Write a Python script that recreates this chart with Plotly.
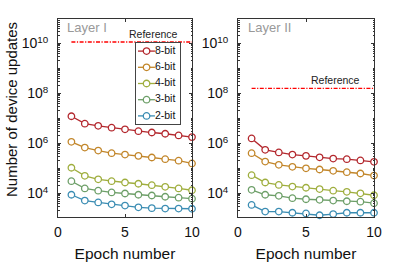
import plotly.graph_objects as go
import math

epochs = [1, 2, 3, 4, 5, 6, 7, 8, 9, 10]
series_names = ["8-bit", "6-bit", "4-bit", "3-bit", "2-bit"]
colors = ["#b3272d", "#c2862a", "#9fae3e", "#6d9f68", "#3b8db3"]

layer1 = {
    "8-bit": [1.23e7, 6.2e6, 5.1e6, 4.3e6, 3.7e6, 3.1e6, 2.75e6, 2.45e6, 2.1e6, 1.8e6],
    "6-bit": [1.17e6, 6.9e5, 5.2e5, 4.1e5, 3.6e5, 3.2e5, 2.75e5, 2.35e5, 2.05e5, 1.6e5],
    "4-bit": [1.07e5, 5.1e4, 3.7e4, 3.1e4, 2.75e4, 2.45e4, 2.15e4, 1.85e4, 1.6e4, 1.35e4],
    "3-bit": [3.1e4, 1.6e4, 1.3e4, 1.1e4, 1.0e4, 8.9e3, 8.3e3, 7.4e3, 6.8e3, 6.2e3],
    "2-bit": [8.9e3, 5.2e3, 4.4e3, 3.7e3, 3.3e3, 2.8e3, 2.6e3, 2.5e3, 2.5e3, 2.45e3],
}
layer2 = {
    "8-bit": [1.6e6, 5.6e5, 4.4e5, 3.6e5, 3.2e5, 2.8e5, 2.5e5, 2.35e5, 2.1e5, 1.85e5],
    "6-bit": [4.1e5, 1.9e5, 1.4e5, 1.17e5, 1.02e5, 9.1e4, 8.1e4, 7.1e4, 6.3e4, 5.2e4],
    "4-bit": [5.4e4, 2.75e4, 2.2e4, 1.9e4, 1.7e4, 1.5e4, 1.3e4, 1.17e4, 1.02e4, 8.5e3],
    "3-bit": [1.4e4, 8.9e3, 8.1e3, 6.5e3, 5.9e3, 5.6e3, 5.2e3, 4.9e3, 4.7e3, 4.1e3],
    "2-bit": [3.5e3, 1.9e3, 1.9e3, 1.7e3, 1.6e3, 1.35e3, 1.5e3, 1.7e3, 1.7e3, 1.7e3],
}
ref_x = [1, 10]
ref_layer1 = 1.15e10
ref_layer2 = 1.6e8
panel_titles = ["Layer I", "Layer II"]
ytick_vals = [1e4, 1e6, 1e8, 1e10]
ytick_text = ["10<sup>4</sup>", "10<sup>6</sup>", "10<sup>8</sup>", "10<sup>10</sup>"]
xtick_vals = [0, 5, 10]

W, H = 415, 262
FONT = "Liberation Sans, Arial, Helvetica, sans-serif"

fig = go.Figure()

for col, (data, refv) in enumerate([(layer1, ref_layer1), (layer2, ref_layer2)]):
    xa = "x" if col == 0 else "x2"
    ya = "y" if col == 0 else "y2"
    for name, c in zip(series_names, colors):
        fig.add_trace(go.Scatter(
            x=epochs, y=data[name], mode="lines+markers", name=name,
            xaxis=xa, yaxis=ya, showlegend=False, cliponaxis=False,
            line=dict(color=c, width=1.3),
            marker=dict(symbol="circle", size=6.5, color="white",
                        line=dict(color=c, width=1.3))))
    fig.add_trace(go.Scatter(
        x=ref_x, y=[refv, refv], mode="lines", xaxis=xa, yaxis=ya,
        line=dict(color="#ff0000", width=1.3, dash="4px,1.5px,1.2px,1.5px"),
        showlegend=False, cliponaxis=False, hoverinfo="skip"))
    fig.add_annotation(x=9.1, y=math.log10(refv), xref=xa, yref=ya,
                       text="Reference", showarrow=False, xanchor="right",
                       yanchor="bottom", yshift=0,
                       font=dict(size=10.5, color="#222", family=FONT))

# legend drawn as a small categorical key panel (one row per series)
key_line_x = [0.45, 4.3]
key_marker_x = 2.4
key_text_x = 4.3
for name, c in zip(series_names, colors):
    fig.add_trace(go.Scatter(
        x=key_line_x, y=[name, name], xaxis="x3", yaxis="y3", mode="lines",
        showlegend=False, hoverinfo="skip", cliponaxis=False,
        line=dict(color=c, width=1.3)))
    fig.add_trace(go.Scatter(
        x=[key_marker_x], y=[name], xaxis="x3", yaxis="y3", mode="markers",
        showlegend=False, hoverinfo="skip", cliponaxis=False,
        marker=dict(symbol="circle", size=6.5, color="white",
                    line=dict(color=c, width=1.3))))
fig.add_trace(go.Scatter(
    x=[key_text_x] * len(series_names), y=series_names, xaxis="x3", yaxis="y3",
    mode="text", text=series_names, textposition="middle right",
    showlegend=False, hoverinfo="skip", cliponaxis=False,
    textfont=dict(size=10.5, color="#111", family=FONT)))

dom1 = [58 / W, 192 / W]
dom2 = [238 / W, 374 / W]
ydom = [1 - 217 / H, 1 - 19 / H]

axis_common = dict(showline=True, linecolor="#333", linewidth=1, mirror="ticks",
                   ticks="inside", tickcolor="#333", showgrid=False, zeroline=False,
                   tickfont=dict(size=14, color="#111", family=FONT))

for i, dom in enumerate([dom1, dom2]):
    sfx = "" if i == 0 else "2"
    fig.update_layout(**{
        "xaxis" + sfx: dict(axis_common, domain=dom, range=[0, 10], tickvals=xtick_vals,
                            ticklen=3, anchor="y" + sfx, automargin=False,
                            ticklabelstandoff=2,
                            title=dict(text="Epoch number", standoff=9,
                                       font=dict(size=15.5, color="#111", family=FONT))),
        "yaxis" + sfx: dict(axis_common, domain=ydom, type="log", range=[3.06, 10.98],
                            tickvals=ytick_vals, ticktext=ytick_text, ticklen=3,
                            anchor="x" + sfx, automargin=False, ticklabelstandoff=6,
                            minor=dict(ticks="inside", ticklen=1.5, tickcolor="#333",
                                       dtick="D1", showgrid=False)),
    })

fig.update_layout(
    xaxis3=dict(domain=[136 / W, 180 / W], range=[0, 10], anchor="y3",
                showline=True, mirror=True, linecolor="#444", linewidth=1,
                showticklabels=False, ticks="", showgrid=False, zeroline=False,
                fixedrange=True),
    yaxis3=dict(domain=[1 - 124 / H, 1 - 43 / H], anchor="x3", type="category",
                categoryarray=series_names[::-1], range=[-0.5, 4.5],
                showline=True, mirror=True, linecolor="#444", linewidth=1,
                showticklabels=False, ticks="", showgrid=False, zeroline=False,
                fixedrange=True),
)

fig.add_annotation(x=65 / W, y=1 - 28 / H, xref="paper", yref="paper", text="Layer I",
                   showarrow=False, xanchor="left", yanchor="middle",
                   font=dict(size=13, color="#999", family=FONT))
fig.add_annotation(x=246 / W, y=1 - 28 / H, xref="paper", yref="paper", text="Layer II",
                   showarrow=False, xanchor="left", yanchor="middle",
                   font=dict(size=13, color="#999", family=FONT))
fig.add_annotation(x=12 / W, y=1 - 110 / H, xref="paper", yref="paper",
                   text="Number of device updates", textangle=-90, showarrow=False,
                   xanchor="center", yanchor="middle",
                   font=dict(size=15, color="#111", family=FONT))

fig.update_layout(
    width=W, height=H, margin=dict(l=0, r=0, t=0, b=0),
    paper_bgcolor="white", plot_bgcolor="white",
    font=dict(family=FONT), showlegend=False,
)

fig.write_html("out.html", config={"displayModeBar": False},
               post_script="document.body.style.margin='0';")
